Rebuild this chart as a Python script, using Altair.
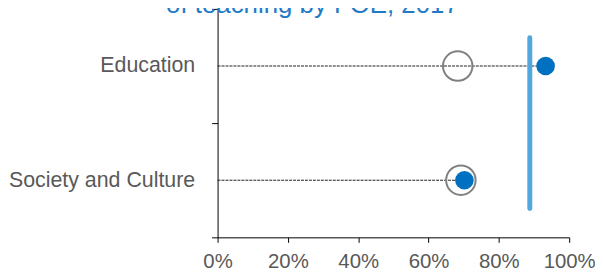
import altair as alt
import pandas as pd

categories = ["Education", "Society and Culture"]
grey_values = [68.3, 69.2]      # hollow grey circles (%)
blue_values = [93.3, 70.2]      # filled blue dots (%)
benchmark = [88.8]              # vertical reference line (%)
x_ticks = [0, 20, 40, 60, 80, 100]
title_text = "of teaching by FOE, 2017"

df = pd.DataFrame({"category": categories, "grey": grey_values, "blue": blue_values})
bench_df = pd.DataFrame({"bench": benchmark, "top": [categories[0]], "bottom": [categories[-1]]})
title_df = pd.DataFrame({"t": [title_text]})

FONT = "Liberation Sans"

x_scale = alt.Scale(domain=[0, 100], nice=False, zero=True)
y_scale = alt.Scale(domain=categories, paddingInner=0, paddingOuter=0)

x_axis = alt.Axis(values=x_ticks, labelExpr="datum.value + '%'", title=None, grid=False,
                  tickSize=5, labelFontSize=20.5, labelColor="#595959", labelFont=FONT,
                  domainColor="#000000", tickColor="#000000", labelPadding=9,
                  labelOverlap=False, labelFlush=False)
y_axis = alt.Axis(title=None, tickBand="extent", tickSize=6, labelFontSize=21.5,
                  labelColor="#595959", labelFont=FONT, labelPadding=17, labelLimit=0,
                  domainColor="#000000", tickColor="#000000", grid=False, labelOverlap=False)

base = alt.Chart(df)

dotted = base.transform_calculate(zero="0").mark_rule(
    color="#222222", strokeWidth=1, strokeDash=[3, 1]).encode(
    x=alt.X("zero:Q", scale=x_scale, axis=x_axis),
    x2=alt.X2("blue:Q"),
    y=alt.Y("category:N", scale=y_scale, axis=y_axis, sort=categories),
)

vline = alt.Chart(bench_df).mark_rule(color="#52A8DE", strokeWidth=5, strokeCap="round",
                                      yOffset=-28.5, y2Offset=28.5).encode(
    x=alt.X("bench:Q", scale=x_scale),
    y=alt.Y("top:N", scale=y_scale, sort=categories),
    y2=alt.Y2("bottom:N"),
)

grey = base.mark_point(shape="circle", filled=False, size=880, stroke="#808080",
                       strokeWidth=2, opacity=1).encode(
    x=alt.X("grey:Q", scale=x_scale),
    y=alt.Y("category:N", scale=y_scale, sort=categories),
)

blue = base.mark_circle(size=350, color="#0070C0", opacity=1).encode(
    x=alt.X("blue:Q", scale=x_scale),
    y=alt.Y("category:N", scale=y_scale, sort=categories),
)

title = alt.Chart(title_df).mark_text(
    font=FONT, fontSize=26, color="#1F7BC8", align="center", baseline="alphabetic"
).encode(text="t:N", x=alt.value(95.5), y=alt.value(4))

chart = alt.layer(dotted, vline, grey, blue, title).properties(
    width=354,
    height=230,
    autosize=alt.AutoSizeParams(type="none"),
    padding={"left": 211, "top": 0, "right": 26, "bottom": 35},
).configure_view(stroke=None)

chart.save("out.html", embed_options={"renderer": "svg", "actions": False})
